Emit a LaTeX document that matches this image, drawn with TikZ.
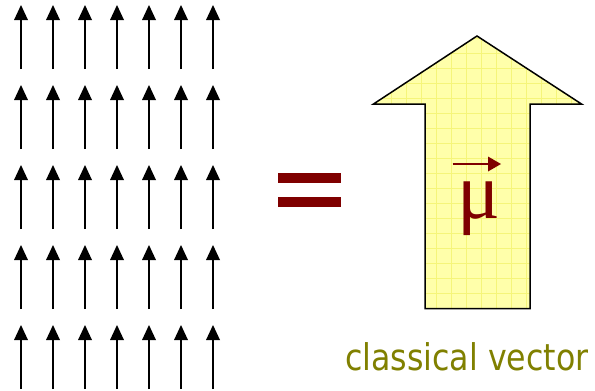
\documentclass[tikz,border=0pt]{standalone}
\usepackage{fontspec}
\newfontfamily\labelfont{DejaVu Sans}
\newfontfamily\mufont{Liberation Serif}
\definecolor{darkred}{HTML}{7F0000}
\definecolor{olivetxt}{HTML}{808000}
\definecolor{arrowfill}{HTML}{FFFFAA}
\definecolor{gridline}{HTML}{F5F57A}
\tikzset{
  spinline/.style={line width=2pt},
  spinhead/.style={fill=black},
  bigarrow/.style={draw=black, line width=1.5pt, line join=miter},
  eqbar/.style={fill=darkred, draw=none},
  veclabel/.style={text=olivetxt, font=\labelfont\fontsize{36.8}{40}\selectfont, inner sep=0pt},
}
\begin{document}
\begin{tikzpicture}[x=1pt,y=-1pt]
\useasboundingbox (0,0) rectangle (595,391);
% grid of small spin arrows
\foreach \c in {0,...,6}{
  \foreach \r in {0,...,4}{
    \coordinate (b-\c-\r) at ({21+32*\c},{69+80*\r});
    \coordinate (t-\c-\r) at ({21+32*\c},{5+80*\r});
    \draw[spinline] (b-\c-\r) -- ([yshift=-14pt]t-\c-\r);
    \fill[spinhead] (t-\c-\r) -- ++(7,15) -- ++(-14,0) -- cycle;
  }
}
% equals sign
\fill[eqbar] (278,173) rectangle (341,182.5);
\fill[eqbar] (278,197) rectangle (341,206.5);
% big arrow
\fill[arrowfill] (477,36) -- (581.5,104) -- (530,104) -- (530,308.5) -- (425,308.5) -- (425,104) -- (373.5,104) -- cycle;
\begin{scope}
  \clip (477,36) -- (581.5,104) -- (530,104) -- (530,308.5) -- (425,308.5) -- (425,104) -- (373.5,104) -- cycle;
  \foreach \x in {376,391,...,586} \draw[gridline, line width=0.5pt] (\x,30) -- (\x,315);
  \foreach \y in {38,53,...,308} \draw[gridline, line width=0.5pt] (370,\y) -- (585,\y);
\end{scope}
\path[bigarrow] (477,36) -- (581.5,104) -- (530,104) -- (530,308.5) -- (425,308.5) -- (425,104) -- (373.5,104) -- cycle;
% mu with vector arrow
\node[text=darkred, font=\mufont\fontsize{80}{90}\selectfont, inner sep=0pt, anchor=base] (mu) at (478.5,218) {μ};
\coordinate (va) at (452.5,164);
\coordinate (vb) at (501,164);
\draw[darkred, line width=1.6pt] (va) -- ([xshift=-12pt]vb);
\fill[darkred] (vb) -- ++(-13,-7.5) -- ++(0,15) -- cycle;
% label
\node[veclabel, anchor=base west] (lbl) at (345,370.7) {\scalebox{0.86}[1]{classical vector}};
\end{tikzpicture}
\end{document}
